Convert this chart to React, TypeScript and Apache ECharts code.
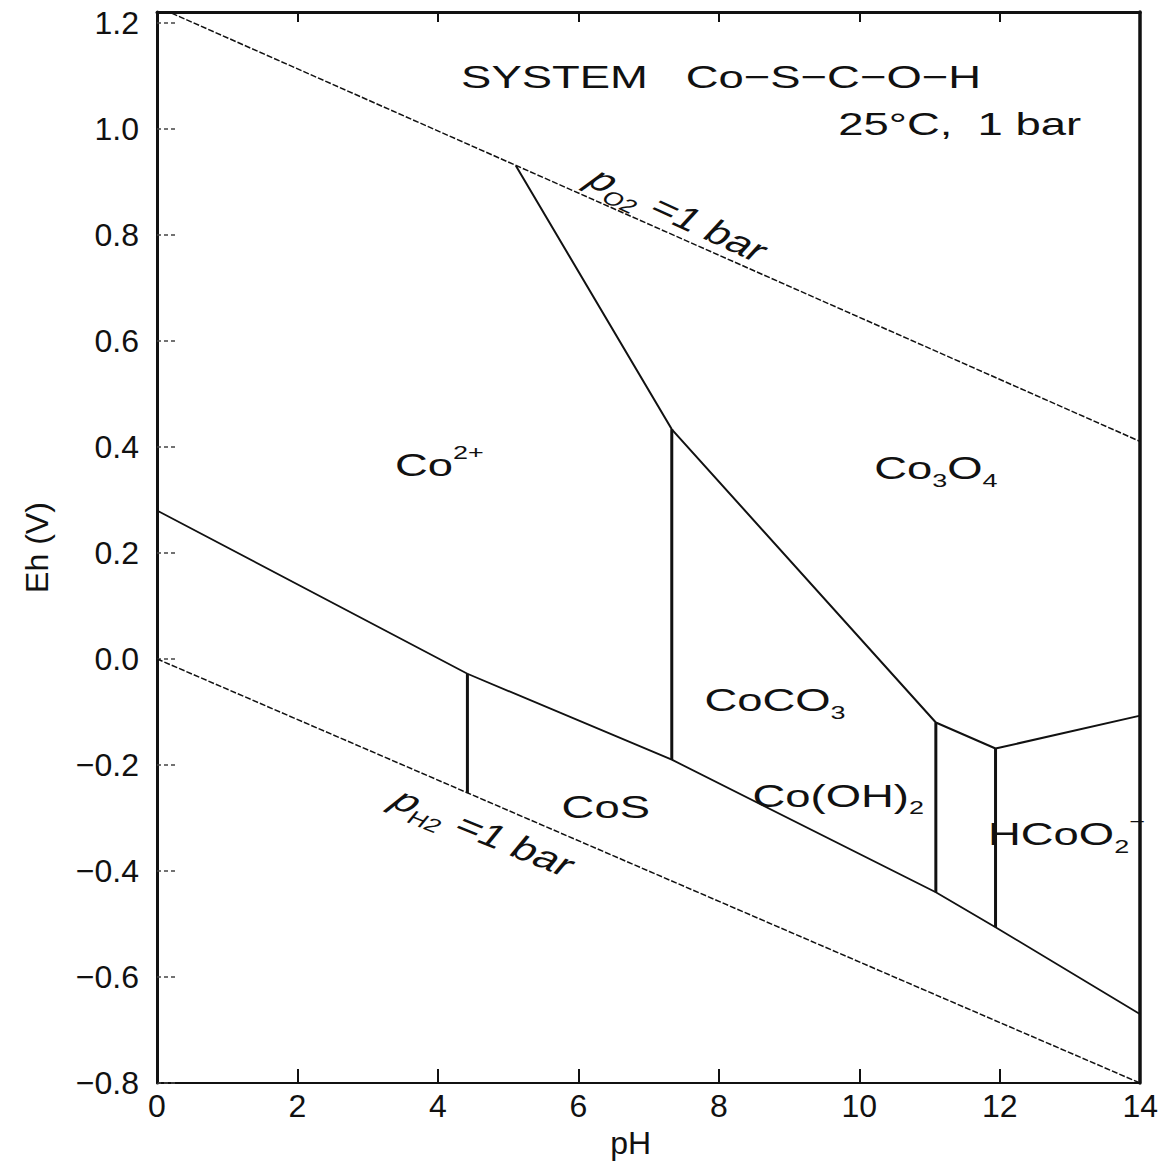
import React, { useEffect, useRef } from "react";
import * as echarts from "echarts";

// ---- data (pH, Eh in volts) ----
const phRange = [0, 14];
const ehRange = [-0.8, 1.22];
const phTickStep = 2;
const ehTickStep = 0.2;

const o2Line = [[0, 1.23], [14, 0.41]];
const h2Line = [[0, 0.0], [14, -0.8]];
const sulfideBoundary = [
  [0, 0.28], [4.42, -0.028], [7.33, -0.19], [11.09, -0.44], [11.94, -0.506], [14, -0.67],
];
const cobaltOxideBoundary = [
  [5.11, 0.93], [7.33, 0.433], [11.09, -0.12], [11.94, -0.169], [14, -0.107],
];
// [pH, upper Eh, lower Eh]
const verticalBoundaries = [
  [4.42, -0.028, -0.253],
  [7.33, 0.433, -0.19],
  [11.09, -0.12, -0.44],
  [11.94, -0.169, -0.506],
];

// label texts and anchor points (pH, Eh)
const fieldLabels = [
  { text: "{m|Co}{sup|2+}", ph: 4.02, eh: 0.366 },
  { text: "{m|Co}{sub|3}{m|O}{sub|4}", ph: 11.09, eh: 0.36 },
  { text: "{m|CoCO}{sub|3}", ph: 8.8, eh: -0.077 },
  { text: "{m|Co(OH)}{sub|2}", ph: 9.7, eh: -0.257 },
  { text: "{m|CoS}", ph: 6.39, eh: -0.279 },
  { text: "{m|HCoO}{sub|2}{sup|−}", ph: 12.95, eh: -0.33 },
];
const headerLabels = [
  { text: "{m|SYSTEM   Co−S−C−O−H}", ph: 4.33, eh: 1.098 },
  { text: "{m|25°C,  1 bar}", ph: 9.7, eh: 1.01 },
];
const lineLabels = [
  { text: "{p|p}{sub|O2}{m| =1 bar}", ph: 7.43, eh: 0.839, deg: 33 },
  { text: "{p|p}{sub|H2}{m| =1 bar}", ph: 4.66, eh: -0.326, deg: 30 },
];

const INK = "#111";
const FONT = "'Liberation Sans', Arial, Helvetica, sans-serif";
const STRETCH = 1.42;

const rich = {
  m: { fontSize: 32, fontFamily: FONT, color: INK, lineHeight: 44, verticalAlign: "middle" },
  p: { fontSize: 32, fontFamily: FONT, color: INK, lineHeight: 44, fontStyle: "italic", verticalAlign: "middle" },
  sub: { fontSize: 19, fontFamily: FONT, color: INK, lineHeight: 20, verticalAlign: "bottom" },
  sup: { fontSize: 19, fontFamily: FONT, color: INK, lineHeight: 20, verticalAlign: "top" },
};

function fmtEh(v: number) {
  const k = v / ehTickStep;
  if (Math.abs(k - Math.round(k)) > 1e-6) return "";
  return (Math.round(k) * ehTickStep).toFixed(1).replace("-", "−");
}

export default function App() {
  const ref = useRef<HTMLDivElement>(null);

  useEffect(() => {
    const chart = echarts.init(ref.current!, null, { renderer: "svg" });

    const lineSeries = (name: string, data: number[][], width: number, type: any, z = 3) => ({
      type: "line",
      name,
      data,
      symbol: "none",
      showSymbol: false,
      silent: true,
      clip: true,
      z,
      lineStyle: { color: INK, width, type },
    });

    const series: any[] = [
      lineSeries("O2 = 1 bar", o2Line, 1.5, [6, 2]),
      lineSeries("H2 = 1 bar", h2Line, 1.5, [6, 2]),
      lineSeries("sulfide", sulfideBoundary, 1.8, "solid"),
      lineSeries("oxide", cobaltOxideBoundary, 2, "solid"),
      ...verticalBoundaries.map(([ph, top, bottom], i) =>
        lineSeries("vertical" + i, [[ph, top], [ph, bottom]], 3, "solid")
      ),
    ];

    chart.setOption({
      animation: false,
      backgroundColor: "#fff",
      grid: { left: 157, right: 17, top: 12, bottom: 74 },
      xAxis: [
        {
          type: "value",
          min: phRange[0],
          max: phRange[1],
          interval: phTickStep,
          name: "pH",
          nameLocation: "middle",
          nameGap: 40,
          nameTextStyle: { fontSize: 32, fontFamily: FONT, color: INK, padding: [0, 36, 0, 0] },
          axisLine: { show: true, onZero: false, lineStyle: { color: INK, width: 2 } },
          axisTick: { show: true, inside: true, length: 14, lineStyle: { color: INK, width: 2 } },
          axisLabel: { fontSize: 32, fontFamily: FONT, color: INK, margin: 7 },
          splitLine: { show: false },
        },
        {
          type: "value",
          position: "top",
          min: phRange[0],
          max: phRange[1],
          interval: phTickStep,
          axisLine: { show: true, onZero: false, lineStyle: { color: INK, width: 3 } },
          axisTick: { show: true, inside: true, length: 10, lineStyle: { color: INK, width: 2 } },
          axisLabel: { show: false },
          splitLine: { show: false },
        },
      ],
      yAxis: [
        {
          type: "value",
          min: ehRange[0],
          max: ehRange[1],
          interval: ehTickStep,
          name: "Eh (V)",
          nameLocation: "middle",
          nameGap: 104,
          nameTextStyle: { fontSize: 32, fontFamily: FONT, color: INK },
          axisLine: { show: true, onZero: false, lineStyle: { color: INK, width: 3 } },
          axisTick: { show: true, inside: true, length: 20, lineStyle: { color: "#444", width: 1.5, type: [4, 3] } },
          axisLabel: { fontSize: 32, fontFamily: FONT, color: INK, margin: 18, formatter: fmtEh, showMaxLabel: false },
          splitLine: { show: false },
        },
        {
          type: "value",
          position: "right",
          min: ehRange[0],
          max: ehRange[1],
          interval: ehTickStep,
          axisLine: { show: true, onZero: false, lineStyle: { color: INK, width: 3.5 } },
          axisTick: { show: false },
          axisLabel: { show: false },
          splitLine: { show: false },
        },
      ],
      series,
    });

    const toPx = (ph: number, eh: number) =>
      chart.convertToPixel({ seriesIndex: 0 }, [ph, eh]) as number[];

    const makeLabel = (lab: any, align: string, deg = 0) => {
      const [x, y] = toPx(lab.ph, lab.eh);
      return {
        type: "group",
        x,
        y,
        scaleX: STRETCH,
        silent: true,
        z: 10,
        children: [
          {
            type: "text",
            rotation: (-deg * Math.PI) / 180,
            style: {
              text: lab.text,
              rich,
              align,
              verticalAlign: "middle",
              fill: INK,
              fontSize: 32,
              fontFamily: FONT,
            },
          },
        ],
      };
    };

    chart.setOption({
      graphic: [
        ...fieldLabels.map((l) => makeLabel(l, "center")),
        ...headerLabels.map((l) => makeLabel(l, "left")),
        ...lineLabels.map((l) => makeLabel(l, "center", l.deg)),
      ],
    });

    return () => chart.dispose();
  }, []);

  return (
    <div
      ref={ref}
      style={{ position: "absolute", left: 0, top: 0, width: 1161, height: 1164 }}
    />
  );
}
